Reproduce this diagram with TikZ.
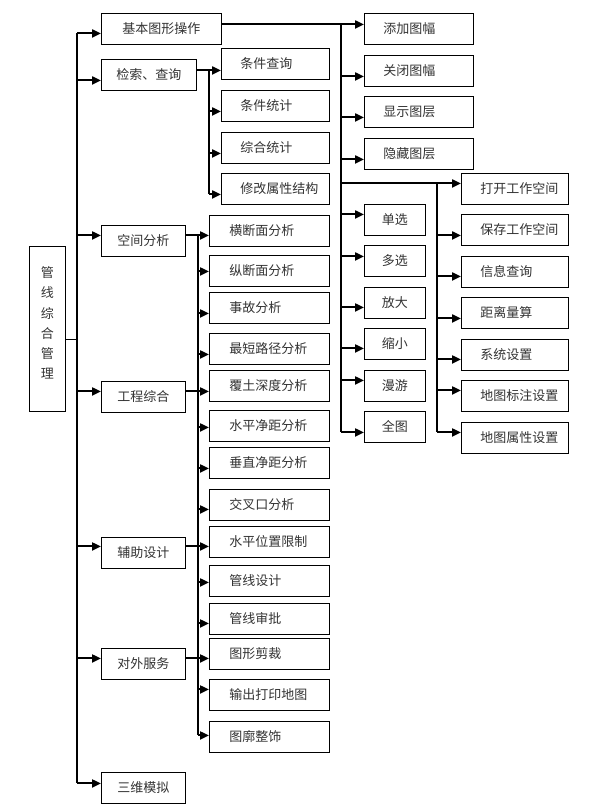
\documentclass[tikz,border=0pt]{standalone}
\usepackage{fontspec}
\newfontfamily\cjk{Noto Sans CJK SC}
\usetikzlibrary{arrows.meta}
\begin{document}
\begin{tikzpicture}[x=1pt,y=-1pt,
  box/.style={draw=black, line width=0.9pt, anchor=north west, minimum height=31pt,
    inner ysep=0pt, inner xsep=0pt, font=\cjk\fontsize{13}{15}\selectfont, text=black!80},
  cbox/.style={box, minimum width=#1},
  lbox/.style={box, align=left, text width=#1},
  arr/.style={line width=2pt, -{Triangle[length=9pt,width=8pt]}},
  ln/.style={line width=1.1pt}]
\fill[white] (0,0) rectangle (594,808);
\useasboundingbox (0,0) rectangle (594,808);

% root
\node[box, minimum width=36pt, minimum height=165pt, label={[font=\cjk\fontsize{13}{20.2}\selectfont, text=black!80, align=center, yshift=6pt]center:管\\线\\综\\合\\管\\理}] (root) at (29,246) {};

% level 1
\node[cbox=120pt] (b1) at (101,13) {基本图形操作};
\node[cbox=95pt] (b2) at (101,59) {检索、查询};
\node[cbox=84pt] (b3) at (101,225) {空间分析};
\node[cbox=84pt] (b4) at (101,381) {工程综合};
\node[cbox=84pt] (b5) at (101,537) {辅助设计};
\node[cbox=84pt] (b6) at (101,648) {对外服务};
\node[cbox=84pt] (b7) at (101,772) {三维模拟};

% search children
\node[lbox=108pt] (c1) at (221,48) {\hspace*{19pt}条件查询};
\node[lbox=108pt] (c2) at (221,90) {\hspace*{19pt}条件统计};
\node[lbox=108pt] (c3) at (221,132) {\hspace*{19pt}综合统计};
\node[lbox=108pt] (c4) at (221,173) {\hspace*{19pt}修改属性结构};

% analysis children
\node[lbox=120pt] (s1) at (209,215) {\hspace*{20pt}横断面分析};
\node[lbox=120pt] (s2) at (209,255) {\hspace*{20pt}纵断面分析};
\node[lbox=120pt] (s3) at (209,292) {\hspace*{20pt}事故分析};
\node[lbox=120pt] (s4) at (209,333) {\hspace*{20pt}最短路径分析};
\node[lbox=120pt] (s5) at (209,370) {\hspace*{20pt}覆土深度分析};
\node[lbox=120pt] (s6) at (209,410) {\hspace*{20pt}水平净距分析};
\node[lbox=120pt] (s7) at (209,447) {\hspace*{20pt}垂直净距分析};
\node[lbox=120pt] (s8) at (209,489) {\hspace*{20pt}交叉口分析};
\node[lbox=120pt] (s9) at (209,526) {\hspace*{20pt}水平位置限制};
\node[lbox=120pt] (s10) at (209,565) {\hspace*{20pt}管线设计};
\node[lbox=120pt] (s11) at (209,603) {\hspace*{20pt}管线审批};
\node[lbox=120pt] (s12) at (209,638) {\hspace*{20pt}图形剪裁};
\node[lbox=120pt] (s13) at (209,679) {\hspace*{20pt}输出打印地图};
\node[lbox=120pt] (s14) at (209,721) {\hspace*{20pt}图廓整饰};

% right group A
\node[lbox=109pt] (r1) at (364,13) {\hspace*{19pt}添加图幅};
\node[lbox=109pt] (r2) at (364,55) {\hspace*{19pt}关闭图幅};
\node[lbox=109pt] (r3) at (364,96) {\hspace*{19pt}显示图层};
\node[lbox=109pt] (r4) at (364,138) {\hspace*{19pt}隐藏图层};
\node[cbox=61pt] (m1) at (364,204) {单选};
\node[cbox=61pt] (m2) at (364,245) {多选};
\node[cbox=61pt] (m3) at (364,287) {放大};
\node[cbox=61pt] (m4) at (364,328) {缩小};
\node[cbox=61pt] (m5) at (364,370) {漫游};
\node[cbox=61pt] (m6) at (364,411) {全图};

% right group B
\node[lbox=107pt] (w1) at (461,173) {\hspace*{19pt}打开工作空间};
\node[lbox=107pt] (w2) at (461,214) {\hspace*{19pt}保存工作空间};
\node[lbox=107pt] (w3) at (461,256) {\hspace*{19pt}信息查询};
\node[lbox=107pt] (w4) at (461,297) {\hspace*{19pt}距离量算};
\node[lbox=107pt] (w5) at (461,339) {\hspace*{19pt}系统设置};
\node[lbox=107pt] (w6) at (461,380) {\hspace*{19pt}地图标注设置};
\node[lbox=107pt] (w7) at (461,422) {\hspace*{19pt}地图属性设置};

% trunk coordinates
\coordinate (tT) at (77,33);
\coordinate (tB) at (77,783);
\coordinate (v1a) at (209,70);
\coordinate (v1b) at (209,194);
\coordinate (v2a) at (198,235);
\coordinate (v2b) at (198,735);
\coordinate (v3a) at (341,24);
\coordinate (v3b) at (341,432);
\coordinate (v4a) at (437,183);
\coordinate (v4b) at (437,432);

% vertical lines
\draw[ln] (tT) -- (tB);
\draw[ln] (v1a) -- (v1b);
\draw[ln] (v2a) -- (v2b);
\draw[ln] (v3a) -- (v3b);
\draw[ln] (v4a) -- (v4b);

% root to trunk
\draw[ln] ([yshift=-10.5pt]root.east) -- ([yshift=-10.5pt]root.east -| tT);

% trunk to level 1
\draw[arr] ([yshift=-4.5pt]b1.west -| tT) -- ([yshift=-4.5pt]b1.west);
\draw[arr] ([yshift=-5.5pt]b2.west -| tT) -- ([yshift=-5.5pt]b2.west);
\draw[arr] ([yshift=5.5pt]b3.west -| tT) -- ([yshift=5.5pt]b3.west);
\draw[arr] ([yshift=5.5pt]b4.west -| tT) -- ([yshift=5.5pt]b4.west);
\draw[arr] ([yshift=6.5pt]b5.west -| tT) -- ([yshift=6.5pt]b5.west);
\draw[arr] ([yshift=5.5pt]b6.west -| tT) -- ([yshift=5.5pt]b6.west);
\draw[arr] ([yshift=4.5pt]b7.west -| tT) -- ([yshift=4.5pt]b7.west);

% search branch
\draw[arr] ([yshift=-6.5pt]c1.west -| b2.east) -- ([yshift=-6.5pt]c1.west);
\draw[arr] ([yshift=-5.5pt]c2.west -| v1a) -- ([yshift=-5.5pt]c2.west);
\draw[arr] ([yshift=-5.5pt]c3.west -| v1a) -- ([yshift=-5.5pt]c3.west);
\draw[arr] ([yshift=-5.5pt]c4.west -| v1a) -- ([yshift=-5.5pt]c4.west);

% analysis branch
\draw[arr] ([yshift=-4.5pt]s1.west -| b3.east) -- ([yshift=-4.5pt]s1.west);
\draw[arr] ([yshift=-0.5pt]s2.west -| v2a) -- ([yshift=-0.5pt]s2.west);
\draw[arr] ([yshift=-5.5pt]s3.west -| v2a) -- ([yshift=-5.5pt]s3.west);
\draw[arr] ([yshift=-5.5pt]s4.west -| v2a) -- ([yshift=-5.5pt]s4.west);
\draw[arr] ([yshift=-5.5pt]s5.west -| b4.east) -- ([yshift=-5.5pt]s5.west);
\draw[arr] ([yshift=-1.5pt]s6.west -| v2a) -- ([yshift=-1.5pt]s6.west);
\draw[arr] ([yshift=-5.5pt]s7.west -| v2a) -- ([yshift=-5.5pt]s7.west);
\draw[arr] ([yshift=-4.5pt]s8.west -| v2a) -- ([yshift=-4.5pt]s8.west);
\draw[arr] ([yshift=-4.5pt]s9.west -| b5.east) -- ([yshift=-4.5pt]s9.west);
\draw[arr] ([yshift=-1.5pt]s10.west -| v2a) -- ([yshift=-1.5pt]s10.west);
\draw[arr] ([yshift=-4.5pt]s11.west -| v2a) -- ([yshift=-4.5pt]s11.west);
\draw[arr] ([yshift=-4.5pt]s12.west -| b6.east) -- ([yshift=-4.5pt]s12.west);
\draw[arr] ([yshift=5.5pt]s13.west -| v2a) -- ([yshift=5.5pt]s13.west);
\draw[arr] ([yshift=1.5pt]s14.west -| v2a) -- ([yshift=1.5pt]s14.west);

% right group A
\draw[arr] ([yshift=4.5pt]r1.west -| b1.east) -- ([yshift=4.5pt]r1.west);
\draw[arr] ([yshift=-5.5pt]r2.west -| v3a) -- ([yshift=-5.5pt]r2.west);
\draw[arr] ([yshift=-5.5pt]r3.west -| v3a) -- ([yshift=-5.5pt]r3.west);
\draw[arr] ([yshift=-5.5pt]r4.west -| v3a) -- ([yshift=-5.5pt]r4.west);
\draw[arr] ([yshift=5.5pt]m1.west -| v3a) -- ([yshift=5.5pt]m1.west);
\draw[arr] ([yshift=4.5pt]m2.west -| v3a) -- ([yshift=4.5pt]m2.west);
\draw[arr] ([yshift=-4.5pt]m3.west -| v3a) -- ([yshift=-4.5pt]m3.west);
\draw[arr] ([yshift=-4.5pt]m4.west -| v3a) -- ([yshift=-4.5pt]m4.west);
\draw[arr] ([yshift=5.5pt]m5.west -| v3a) -- ([yshift=5.5pt]m5.west);
\draw[arr] ([yshift=-5.5pt]m6.west -| v3a) -- ([yshift=-5.5pt]m6.west);

% right group B
\draw[arr] ([yshift=5.5pt]w1.west -| v3a) -- ([yshift=5.5pt]w1.west);
\draw[arr] ([yshift=-5.5pt]w2.west -| v4a) -- ([yshift=-5.5pt]w2.west);
\draw[arr] ([yshift=-4.5pt]w3.west -| v4a) -- ([yshift=-4.5pt]w3.west);
\draw[arr] ([yshift=-5.5pt]w4.west -| v4a) -- ([yshift=-5.5pt]w4.west);
\draw[arr] ([yshift=-4.5pt]w5.west -| v4a) -- ([yshift=-4.5pt]w5.west);
\draw[arr] ([yshift=5.5pt]w6.west -| v4a) -- ([yshift=5.5pt]w6.west);
\draw[arr] ([yshift=5.5pt]w7.west -| v4a) -- ([yshift=5.5pt]w7.west);
\end{tikzpicture}
\end{document}
